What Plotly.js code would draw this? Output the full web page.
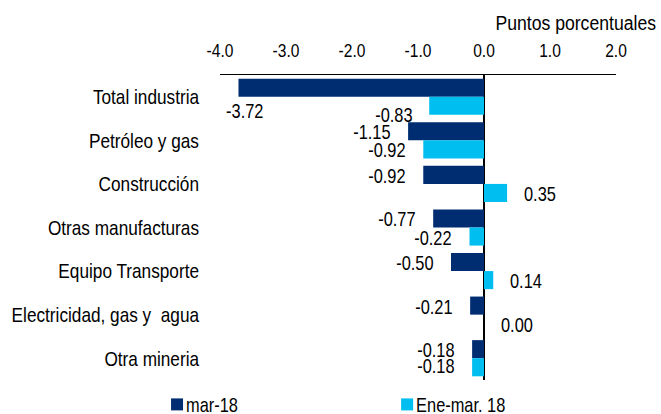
<!DOCTYPE html>
<html>
<head>
<meta charset="utf-8">
<script src="https://cdn.plot.ly/plotly-3.0.1.min.js"></script>
<style>html,body{margin:0;padding:0;background:#fff;}#chart{width:661px;height:414px;}</style>
</head>
<body>
<div id="chart"></div>
<script>
const categories = ['Total industria', 'Petróleo y gas', 'Construcción', 'Otras manufacturas', 'Equipo Transporte', 'Electricidad, gas y\u00a0 agua', 'Otra mineria'];
const seriesNames = ['mar-18', 'Ene-mar. 18'];
const mar18 = [-3.72, -1.15, -0.92, -0.77, -0.50, -0.21, -0.18];
const eneMar18 = [-0.83, -0.92, 0.35, -0.22, 0.14, 0.00, -0.18];
const xTicks = [-4, -3, -2, -1, 0, 1, 2];
const xTickText = ['-4.0', '-3.0', '-2.0', '-1.0', '0.0', '1.0', '2.0'];
const unitLabel = 'Puntos porcentuales';

const FONT = '"Liberation Sans", Arial, sans-serif';
const NARROW = 0.82; // horizontal squeeze to mimic Arial Narrow
const colors = ['#002D72', '#00BEF0'];
const series = [mar18, eneMar18];

const traces = series.map((vals, s) => ({
  type: 'bar', orientation: 'h',
  y: categories, x: vals, name: seriesNames[s],
  marker: {color: colors[s]},
  legend: s === 0 ? 'legend' : 'legend2',
  hoverinfo: 'skip'
}));

const halfOffset = 0.2075;
const special = {
  '0-0': {xanchor: 'center', xshift: 7, yshift: -23},
  '1-0': {xanchor: 'right', xshift: -15, yshift: -9},
  '1-6': {yshift: 1.5}
};
const annotations = [];
series.forEach((vals, s) => {
  vals.forEach((v, i) => {
    const base = v < 0 ? {xanchor: 'right', xshift: -16, yshift: -1} : {xanchor: 'left', xshift: 16, yshift: -1};
    const tw = special[s + '-' + i] || {};
    annotations.push(Object.assign({
      x: v, y: i + (s === 0 ? -halfOffset : halfOffset),
      xref: 'x', yref: 'y', text: v.toFixed(2), showarrow: false,
      yanchor: 'middle', borderpad: 0, font: {family: FONT, size: 20, color: '#000'}
    }, base, tw));
  });
});
annotations.push({
  xref: 'paper', yref: 'paper', x: (575 - 220) / 396, y: 1, yshift: 53, xanchor: 'center', yanchor: 'middle',
  borderpad: 0, text: unitLabel, showarrow: false, font: {family: FONT, size: 21, color: '#000'}
});

const legendBase = {
  orientation: 'h', y: -0.08, yanchor: 'middle', xanchor: 'left',
  font: {family: FONT, size: 20, color: '#000'}, bgcolor: 'rgba(0,0,0,0)'
};

const layout = {
  width: 661, height: 414,
  margin: {l: 220, r: 45, t: 75, b: 34, autoexpand: false},
  paper_bgcolor: '#fff', plot_bgcolor: '#fff',
  font: {family: FONT, size: 20, color: '#000'},
  barmode: 'group', bargap: 0.17, bargroupgap: 0,
  xaxis: {
    side: 'top', range: [-4, 2], tickvals: xTicks, ticktext: xTickText,
    showgrid: false, zeroline: true, zerolinecolor: '#000', zerolinewidth: 1.5,
    showline: true, linecolor: '#000', linewidth: 1.5,
    ticks: '', ticklabelstandoff: 9, tickfont: {family: FONT, size: 19, color: '#000'}
  },
  yaxis: {
    range: [categories.length - 0.5, -0.5], autorange: false,
    showgrid: false, zeroline: false, showline: false,
    ticks: '', ticklabelstandoff: 20, tickfont: {family: FONT, size: 21, color: '#000'}
  },
  showlegend: true,
  legend: Object.assign({x: -0.159}, legendBase),
  legend2: Object.assign({x: 0.422}, legendBase),
  annotations: annotations
};

function squeezeText(gd) {
  const annAnchors = layout.annotations.map(a => a.xanchor);
  gd.querySelectorAll('svg text').forEach(t => {
    if (!t.textContent.trim()) return;
    const bb = t.getBBox();
    let anchor = t.getAttribute('text-anchor') || 'start';
    let extra = 0;
    let factor = NARROW;
    const annG = t.closest('g.annotation');
    if (annG) {
      const idx = +annG.getAttribute('data-index');
      const xa = annAnchors[idx];
      anchor = xa === 'right' ? 'end' : (xa === 'left' ? 'start' : 'middle');
      if (t.textContent === unitLabel) factor = 0.84;
    }
    if (t.closest('.legend, .legend2, [class^="legend"]')) extra = -11;
    const ax = anchor === 'end' ? bb.x + bb.width : (anchor === 'middle' ? bb.x + bb.width / 2 : bb.x);
    const prev = t.getAttribute('transform') || '';
    t.setAttribute('transform', (prev + ' translate(' + (ax + extra) + ',0) scale(' + factor + ',1) translate(' + (-ax) + ',0)').trim());
  });
  gd.querySelectorAll('[class^="legend"] .scrollbox, [class^="legend"]').forEach(el => el.removeAttribute('clip-path'));
}

Plotly.newPlot('chart', traces, layout, {displayModeBar: false, staticPlot: true}).then(squeezeText);
</script>
</body>
</html>
